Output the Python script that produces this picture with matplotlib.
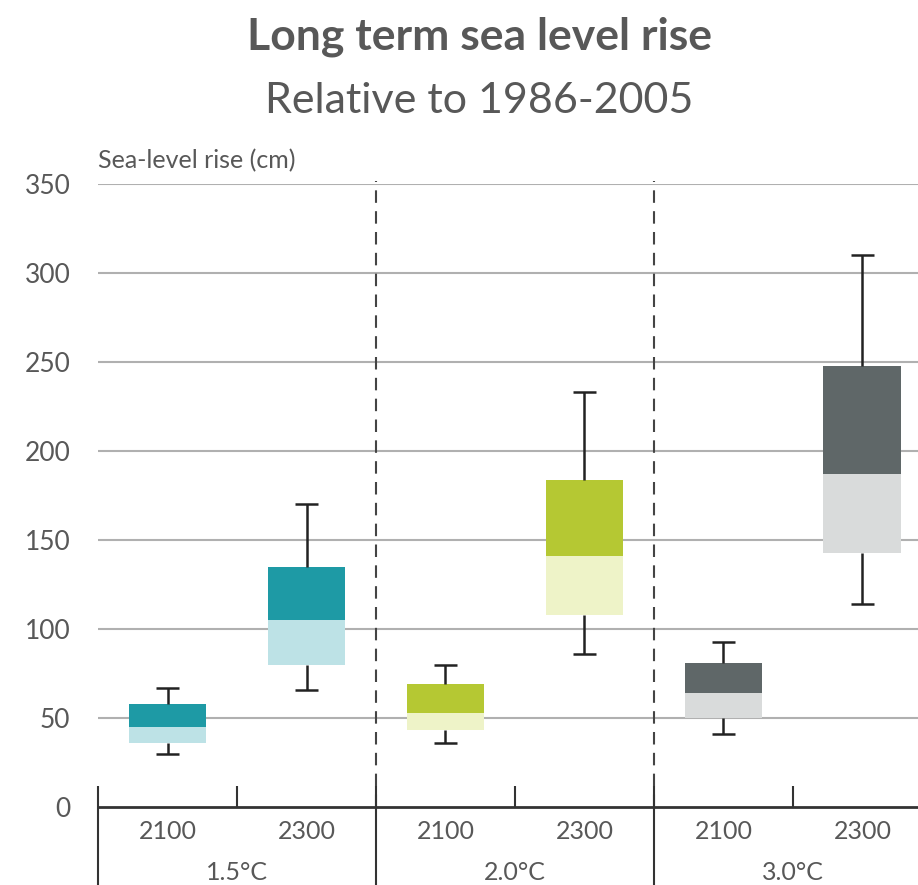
import matplotlib.pyplot as plt
import numpy as np

# data (cm, relative to 1986-2005)
groups = ['1.5°C', '2.0°C', '3.0°C']
years = ['2100', '2300']
whisker_low = [30, 66, 36, 86, 41, 114]
box_low = [36, 80, 43, 108, 50, 143]
box_mid = [45, 105, 53, 141, 64, 187]
box_high = [58, 135, 69, 184, 81, 248]
whisker_high = [67, 170, 80, 233, 93, 310]

dark_colors = ['#1e9aa5', '#b5c833', '#5f6768']
light_colors = ['#bde2e6', '#eef3c8', '#d9dbdb']

plt.rcParams['font.family'] = ['Lato', 'DejaVu Sans']

text_col = '#585858'

fig = plt.figure(figsize=(9.18, 8.85), dpi=100)
ax = fig.add_axes([0.1068, 0.0881, 0.8932, 0.7039])

# x positions: two years per group, groups one unit wide
xpos = []
for g in range(len(groups)):
    for k in range(len(years)):
        xpos.append(g + 0.25 + 0.5 * k)
xpos = np.array(xpos)
bw = 0.28

# grid
for v in range(50, 351, 50):
    ax.axhline(v, color='#b0b0b0', lw=1.5, zorder=0)

# boxes
for i, x in enumerate(xpos):
    g = i // 2
    ax.bar(x, box_mid[i] - box_low[i], bottom=box_low[i], width=bw,
           color=light_colors[g], zorder=2)
    ax.bar(x, box_high[i] - box_mid[i], bottom=box_mid[i], width=bw,
           color=dark_colors[g], zorder=2)
    ax.vlines(x, box_high[i], whisker_high[i], color='#222222', lw=1.8, zorder=3)
    ax.vlines(x, whisker_low[i], box_low[i], color='#222222', lw=1.8, zorder=3)
    ax.hlines([whisker_low[i], whisker_high[i]], x - 0.04, x + 0.04,
              color='#222222', lw=1.8, zorder=3)

# group dividers
for d in [1, 2]:
    ax.vlines(d, 0, 352, color='#444444', lw=1.5, linestyles=(0, (6, 4)),
              zorder=1, clip_on=False)
for d in [0, 1, 2]:
    ax.vlines(d, -60, 12, color='#333333', lw=1.5, clip_on=False, zorder=4)
for t in [0.5, 1.5, 2.5]:
    ax.vlines(t, 0, 12, color='#333333', lw=1.5, clip_on=False, zorder=4)

ax.axhline(0, color='#333333', lw=2, zorder=4, clip_on=False)

# category labels
for i, x in enumerate(xpos):
    ax.text(x, -14, years[i % 2], ha='center', va='center', fontsize=18,
            color=text_col)
for g, name in enumerate(groups):
    ax.text(g + 0.5, -37, name, ha='center', va='center', fontsize=18,
            color=text_col)

ax.set_xlim(0, 2.95)
ax.set_ylim(0, 350)
ax.set_yticks(range(0, 351, 50))
ax.tick_params(axis='y', length=0, pad=20, labelsize=19, labelcolor=text_col)
ax.set_xticks([])
for s in ax.spines.values():
    s.set_visible(False)

fig.text(0.107, 0.819, 'Sea-level rise (cm)', fontsize=18, color=text_col,
         ha='left', va='center')
fig.text(0.522, 0.958, 'Long term sea level rise', fontsize=32, fontweight='bold',
         color=text_col, ha='center', va='center')
fig.text(0.522, 0.886, 'Relative to 1986-2005', fontsize=31,
         color=text_col, ha='center', va='center')

fig.savefig('out.png', dpi=100)
